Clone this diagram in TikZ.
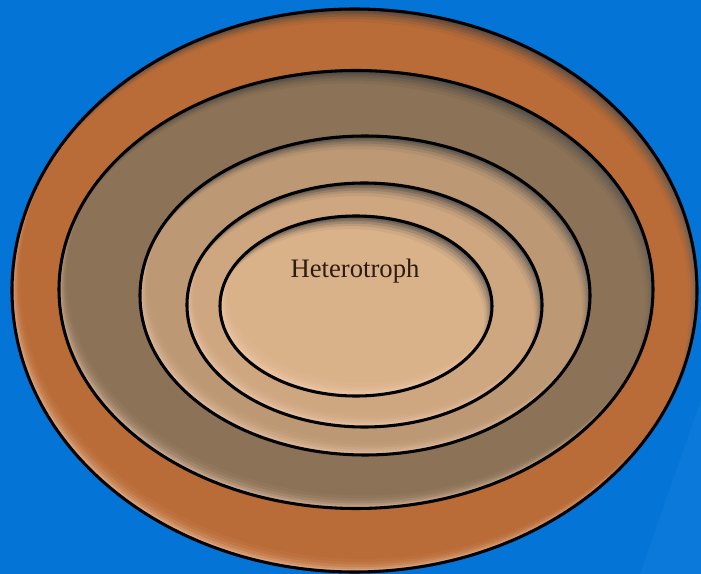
\documentclass[tikz,border=0pt]{standalone}
\usepackage{fontspec}
\setmainfont{Liberation Serif}
\definecolor{bgblue}{RGB}{4,116,214}
\definecolor{bgblue2}{RGB}{10,121,217}
\definecolor{ringA}{RGB}{186,108,56}
\definecolor{ringB}{RGB}{140,114,86}
\definecolor{ringC}{RGB}{188,152,116}
\definecolor{ringD}{RGB}{206,166,128}
\definecolor{ringE}{RGB}{218,178,138}
\definecolor{shade}{RGB}{36,40,16}
\definecolor{glow}{RGB}{255,220,196}
\definecolor{txt}{RGB}{46,28,16}
\newcommand\myring[5]{%
  \fill[#5] (#1,#2) ellipse [x radius=#3, y radius=#4];
  \begin{scope}
    \clip (#1,#2) ellipse [x radius=#3, y radius=#4];
    \foreach \s/\o in {1.5/0.3,3/0.22,5/0.16,7.5/0.11,10/0.07,13/0.04}{
      \fill[shade, opacity=\o, even odd rule] (#1,#2) ellipse [x radius=#3, y radius=#4]
        ({#1-0.6*\s},{#2+\s}) ellipse [x radius=#3, y radius=#4];
      \fill[glow, opacity=\o, even odd rule] (#1,#2) ellipse [x radius=#3, y radius=#4]
        ({#1+0.6*\s},{#2-\s}) ellipse [x radius=#3, y radius=#4];
    }
  \end{scope}
  \draw[ringline] (#1,#2) ellipse [x radius=#3, y radius=#4];
}
\begin{document}
\begin{tikzpicture}[x=0.75pt,y=-0.75pt,
  ringline/.style={draw=black, line width=2.3pt},
  labeltext/.style={font=\fontsize{20}{24}\selectfont, text=txt, anchor=base}]
\useasboundingbox (0,0) rectangle (701,574);
\fill[bgblue] (0,0) rectangle (701,574);
\fill[bgblue2] (701,400) -- (701,574) -- (640,574) -- cycle;
\myring{354.5}{290.5}{342.5}{281.5}{ringA}
\myring{356}{289.5}{297}{219}{ringB}
\myring{365}{295.5}{225}{159.5}{ringC}
\myring{364.5}{305}{177.5}{122}{ringD}
\myring{356}{306}{136}{90}{ringE}
\node[labeltext] (label) at (355,278) {Heterotroph};
\end{tikzpicture}
\end{document}
